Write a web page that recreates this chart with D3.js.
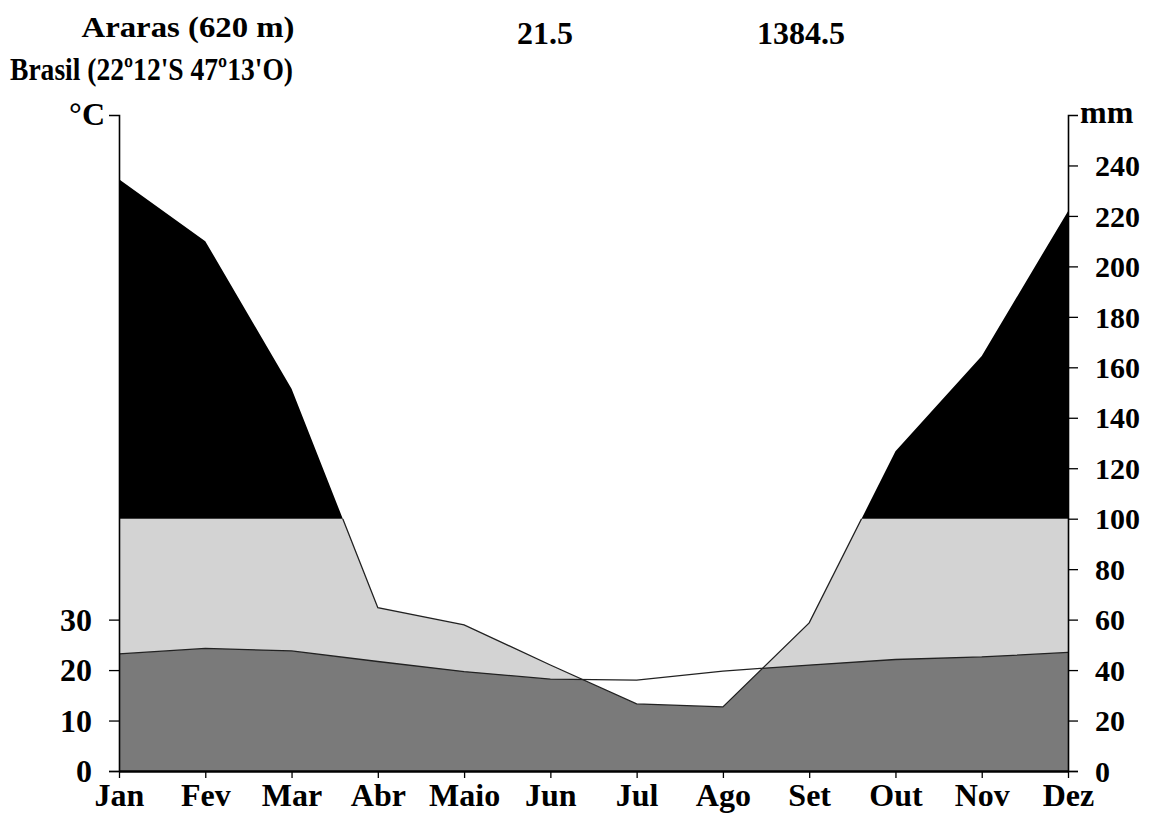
<!DOCTYPE html>
<html>
<head>
<meta charset="utf-8">
<script src="https://cdn.jsdelivr.net/npm/d3@7"></script>
<style>
  html, body { margin: 0; padding: 0; background: #fff; }
  svg text { font-family: "Liberation Serif", "Times New Roman", serif; font-weight: bold; fill: #000; }
</style>
</head>
<body>
<svg id="chart" width="1152" height="816"></svg>
<script>
const months = ["Jan","Fev","Mar","Abr","Maio","Jun","Jul","Ago","Set","Out","Nov","Dez"];
const tempC = [23.2, 24.3, 23.8, 21.7, 19.7, 18.2, 18.0, 19.8, 21.0, 22.1, 22.6, 23.5];
const precipMm = [234.5, 210.0, 151.5, 64.7, 57.9, 42.0, 26.6, 25.4, 58.7, 126.7, 164.5, 221.9];
const tempTicks = [0, 10, 20, 30];
const precipTicks = [0, 20, 40, 60, 80, 100, 120, 140, 160, 180, 200, 220, 240];
const stationName = "Araras (620 m)";
const stationPlace = "Brasil (22º12'S 47º13'O)";
const meanTemp = "21.5";
const totalPrecip = "1384.5";

const svg = d3.select("#chart");
const W = 1152, H = 816;
const mLeft = 119, mRight = 1068, mBottom = 771, mTop = 115;

const x = d3.scalePoint().domain(months).range([mLeft, mRight]);
const yMm = d3.scaleLinear().domain([0, 260]).range([mBottom, mTop]);
const yT = d3.scaleLinear().domain([0, 130]).range([mBottom, mTop]);

const data = months.map((m, i) => ({ m, t: tempC[i], p: precipMm[i] }));

const defs = svg.append("defs");
defs.append("clipPath").attr("id", "clipAbove")
  .append("rect").attr("x", 0).attr("y", 0).attr("width", W).attr("height", yMm(100));
defs.append("clipPath").attr("id", "clipBelow")
  .append("rect").attr("x", 0).attr("y", yMm(100)).attr("width", W).attr("height", H - yMm(100));

const areaP = d3.area().x(d => x(d.m)).y0(yMm(0)).y1(d => yMm(d.p));
const areaT = d3.area().x(d => x(d.m)).y0(yT(0)).y1(d => yT(d.t));
const lineP = d3.line().x(d => x(d.m)).y(d => yMm(d.p));
const lineT = d3.line().x(d => x(d.m)).y(d => yT(d.t));

defs.append("clipPath").attr("id", "clipPrecip")
  .append("path").attr("d", areaP(data));

// light gray humid zone (below 100 mm)
svg.append("path").attr("d", areaP(data)).attr("fill", "#d3d3d3").attr("clip-path", "url(#clipBelow)");
// black super-humid zone (above 100 mm)
svg.append("path").attr("d", areaP(data)).attr("fill", "#000").attr("clip-path", "url(#clipAbove)");
// dark gray under min(temperature, precipitation)
svg.append("path").attr("d", areaT(data)).attr("fill", "#7a7a7a").attr("clip-path", "url(#clipPrecip)");

// lines
svg.append("path").attr("d", lineT(data)).attr("fill", "none").attr("stroke", "#222").attr("stroke-width", 1.3);
svg.append("path").attr("d", lineP(data)).attr("fill", "none").attr("stroke", "#222").attr("stroke-width", 1.3)
  .attr("clip-path", "url(#clipBelow)");

// axes
const gL = svg.append("g").attr("transform", `translate(${mLeft},0)`)
  .call(d3.axisLeft(yT).tickValues(tempTicks).tickSize(10).tickSizeOuter(10).tickPadding(17));
const gR = svg.append("g").attr("transform", `translate(${mRight},0)`)
  .call(d3.axisRight(yMm).tickValues(precipTicks).tickSize(10).tickSizeOuter(10).tickPadding(17));
const gB = svg.append("g").attr("transform", `translate(0,${mBottom})`)
  .call(d3.axisBottom(x).tickSize(7).tickSizeOuter(0).tickPadding(6));

[gL, gR, gB].forEach(g => {
  g.selectAll("path.domain").attr("stroke", "#000").attr("stroke-width", 1.6);
  g.selectAll(".tick line").attr("stroke", "#000").attr("stroke-width", 1.3);
  g.selectAll("text").attr("font-family", "Liberation Serif").attr("font-weight", "bold").attr("fill", "#000");
});
gB.select("path.domain").attr("stroke-width", 2.6);
gL.selectAll("text").attr("font-size", 32).attr("dy", "0.34em");
gR.selectAll("text").attr("font-size", 30).attr("dy", "0.34em");
gB.selectAll("text").attr("font-size", 32).attr("dy", "0.68em");

// header texts
svg.append("text").attr("x", 188).attr("y", 37).attr("text-anchor", "middle")
  .attr("font-size", 30).attr("textLength", 213).attr("lengthAdjust", "spacingAndGlyphs").text(stationName);
svg.append("text").attr("x", 10).attr("y", 80)
  .attr("font-size", 32).attr("textLength", 283).attr("lengthAdjust", "spacingAndGlyphs").text(stationPlace);
svg.append("text").attr("x", 545).attr("y", 44).attr("text-anchor", "middle")
  .attr("font-size", 32).text(meanTemp);
svg.append("text").attr("x", 801).attr("y", 44).attr("text-anchor", "middle")
  .attr("font-size", 32).text(totalPrecip);
svg.append("text").attr("x", 105).attr("y", 125).attr("text-anchor", "end")
  .attr("font-size", 32).text("°C");
svg.append("text").attr("x", 1080).attr("y", 123)
  .attr("font-size", 32).text("mm");
</script>
</body>
</html>
